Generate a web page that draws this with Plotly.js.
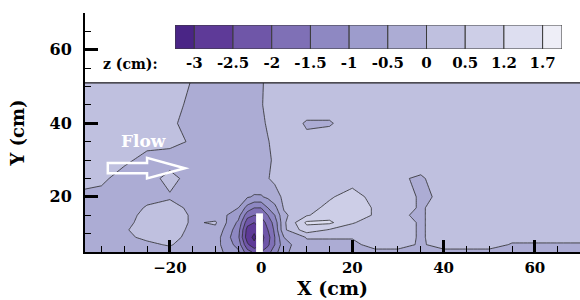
<!DOCTYPE html>
<html><head><meta charset="utf-8">
<script src="https://cdn.plot.ly/plotly-3.0.1.min.js"></script>
<style>html,body{margin:0;padding:0;background:#fff}#chart{width:580px;height:300px}</style>
</head><body><div id="chart"></div>
<script>
// grid of measurement positions (cm)
const xGrid = [-39,-35,-30,-25,-20,-15,-10,-5,-3,-1.5,0,1.5,3,5,10,15,20,25,30,35,40,45,50,55,60,65,70];
const yGrid = [5,7,9,11,13,15,17,20,25,30,35,40,45,51];
// bed level z (cm), one row per y
const zY5  = [-0.25,-0.25,-0.3,-0.3,-0.2,-0.3,-0.3,-0.9,-1.8,-2.1,-2.0,-1.7,-1.2,-0.6,-0.15,-0.15,-0.15,-0.1,-0.1,-0.15,-0.1,-0.1,-0.1,-0.15,-0.15,-0.15,-0.15];
const zY7  = [-0.25,-0.25,-0.25,-0.1,0.05,-0.3,-0.3,-1.2,-2.4,-2.9,-2.6,-2.1,-1.5,-0.7,-0.1,-0.1,-0.1,0.15,0.15,-0.05,0.15,0.15,0.15,-0.03,-0.03,-0.03,-0.03];
const zY9  = [-0.25,-0.25,-0.1,0.1,0.2,-0.2,-0.25,-1.4,-2.8,-3.1,-2.7,-2.2,-1.5,-0.5,0.03,0.03,0.03,0.2,0.2,-0.05,0.2,0.2,0.2,0.1,0.1,0.1,0.1];
const zY11 = [-0.25,-0.25,-0.05,0.2,0.2,-0.1,-0.1,-1.3,-2.7,-2.9,-2.5,-2.0,-1.4,-0.1,0.9,0.45,0.3,0.25,0.2,-0.05,0.2,0.25,0.25,0.25,0.25,0.25,0.25];
const zY13 = [-0.25,-0.25,-0.15,0.2,0.2,-0.05,0.05,-1.1,-2.3,-2.5,-2.3,-1.8,-1.3,-0.1,1.3,1.3,0.55,0.3,0.2,-0.05,0.2,0.25,0.25,0.25,0.25,0.25,0.25];
const zY15 = [-0.25,-0.25,-0.2,0.15,0.2,-0.05,-0.2,-0.8,-1.8,-2.0,-1.9,-1.5,-1.0,-0.1,0.45,0.9,0.85,0.45,0.05,-0.05,0.2,0.25,0.25,0.25,0.25,0.25,0.25];
const zY17 = [-0.25,-0.25,-0.25,0.05,0.15,-0.1,-0.25,-0.5,-1.2,-1.5,-1.5,-1.0,-0.65,0.05,0.35,0.65,0.85,0.45,0.2,-0.05,0.2,0.25,0.25,0.25,0.25,0.25,0.25];
const zY20 = [-0.1,-0.15,-0.25,-0.15,-0.05,-0.2,-0.25,-0.3,-0.45,-0.55,-0.55,-0.4,-0.2,0.1,0.3,0.45,0.75,0.35,0.2,-0.05,0.05,0.25,0.25,0.25,0.25,0.25,0.25];
const zY25 = [0.15,0.1,-0.2,-0.2,0.15,-0.2,-0.2,-0.2,-0.2,-0.15,-0.1,-0.02,0.1,0.2,0.25,0.3,0.3,0.25,0.05,-0.05,0.2,0.25,0.25,0.25,0.25,0.25,0.25];
const zY30 = [0.15,0.15,0.1,-0.15,-0.2,-0.2,-0.2,-0.2,-0.2,-0.15,-0.1,-0.05,0.05,0.2,0.25,0.25,0.25,0.25,0.25,0.2,0.25,0.25,0.25,0.25,0.25,0.25,0.25];
const zY35 = [0.15,0.15,0.15,0.15,0.12,-0.05,-0.2,-0.2,-0.2,-0.15,-0.1,-0.02,0.1,0.2,0.1,0.25,0.25,0.25,0.25,0.25,0.25,0.25,0.25,0.25,0.25,0.25,0.25];
const zY40 = [0.15,0.15,0.15,0.15,0.1,-0.2,-0.2,-0.2,-0.2,-0.15,-0.08,0.05,0.2,0.25,-0.05,-0.05,0.25,0.25,0.25,0.25,0.25,0.25,0.25,0.25,0.25,0.25,0.25];
const zY45 = [0.15,0.15,0.15,0.15,0.15,-0.1,-0.2,-0.2,-0.2,-0.15,-0.03,0.1,0.2,0.25,0.25,0.25,0.25,0.25,0.25,0.25,0.25,0.25,0.25,0.25,0.25,0.25,0.25];
const zY51 = [0.15,0.15,0.15,0.15,0.15,-0.02,-0.2,-0.2,-0.2,-0.15,-0.05,0.1,0.2,0.25,0.25,0.25,0.25,0.25,0.25,0.25,0.25,0.25,0.25,0.25,0.25,0.25,0.25];
const zRows = [zY5,zY7,zY9,zY11,zY13,zY15,zY17,zY20,zY25,zY30,zY35,zY40,zY45,zY51];

// contour levels (cm) and legend labels
const levels = [-3,-2.5,-2,-1.5,-1,-0.5,0,0.5,1.2,1.7];
const levelLabels = ['-3','-2.5','-2','-1.5','-1','-0.5','0','0.5','1.2','1.7'];
const bandColors = ['#4a2586','#5e3a98','#6f56a8','#7f70b6','#8e88c2','#9d9ccc','#acacd4','#bfc0df','#cdcee7','#dddef0','#eeeef7'];

// pier and flow arrow (cm)
const pierX = [-1.1, 0.4];
const pierY = [5, 15.5];
const arrowX = [-33.6, -25, -16.7];
const arrowY = 27.8;

// map z to level index (levels are not evenly spaced)
function toIndex(v){
  const n = levels.length;
  if (v <= levels[0]) return (v - levels[0]) / (levels[1] - levels[0]);
  if (v >= levels[n-1]) return (n-1) + (v - levels[n-1]) / (levels[n-1] - levels[n-2]);
  for (let i = 0; i < n-1; i++) {
    if (v <= levels[i+1]) return i + (v - levels[i]) / (levels[i+1] - levels[i]);
  }
}
const zIdx = zRows.map(r => r.map(toIndex));
const cscale = bandColors.map((c,i) => [i/(bandColors.length-1), c]);

const contour = {
  type:'contour', x:xGrid, y:yGrid, z:zIdx,
  contours:{start:0, end:levels.length-1, size:1, coloring:'fill', showlines:true},
  colorscale:cscale, showscale:false,
  line:{color:'#2a2a2a', width:0.8, smoothing:0},
  hoverinfo:'skip'
};

// legend bar built from the levels
const barX = [], barW = [];
for (let k = 0; k < bandColors.length; k++) {
  const lo = Math.max(k-1, -0.5), hi = Math.min(k, levels.length-0.5);
  barX.push((lo+hi)/2); barW.push(hi-lo);
}
const legendBar = {
  type:'bar', x:barX, y:bandColors.map(()=>1), width:barW, base:0,
  marker:{color:bandColors, line:{color:'#3a3a3a', width:1}},
  xaxis:'x2', yaxis:'y2', hoverinfo:'skip'
};

const tfx = {family:'DejaVu Serif', size:15, color:'#000', weight:'bold'};
const tfy = {family:'DejaVu Serif', size:16, color:'#000', weight:'bold'};
const arrowPath = (() => {
  const [x0,xh,x1] = arrowX, y = arrowY, s = 1.4, h = 2.8;
  return `M${x0},${y+s} L${xh},${y+s} L${xh},${y+h} L${x1},${y} L${xh},${y-h} L${xh},${y-s} L${x0},${y-s} Z`;
})();

const layout = {
  width:580, height:300, margin:{l:85, r:0, t:13, b:48},
  paper_bgcolor:'#fff', plot_bgcolor:'#fff', showlegend:false,
  font:{family:'DejaVu Serif', color:'#000'},
  xaxis:{range:[-38.6,69.9], tick0:0, dtick:20, ticks:'inside', ticklen:12, tickwidth:3, tickcolor:'#000',
    showline:true, linewidth:2, linecolor:'#000', showgrid:false, zeroline:false, tickfont:tfx, ticklabelstandoff:1,
    minor:{ticks:'inside', ticklen:6, tickwidth:1, dtick:5, tick0:0, tickcolor:'#000', showgrid:false},
    title:{text:'X (cm)', font:{family:'DejaVu Serif', size:19, weight:'bold', color:'#000'}, standoff:4}},
  yaxis:{range:[5,70], tick0:0, dtick:20, ticks:'inside', ticklen:13, tickwidth:3, tickcolor:'#000',
    showline:true, linewidth:2, linecolor:'#000', showgrid:false, zeroline:false, tickfont:tfy, ticklabelstandoff:8,
    minor:{ticks:'inside', ticklen:6, tickwidth:1, dtick:5, tick0:0, tickcolor:'#000', showgrid:false},
    title:{text:'Y (cm)', font:{family:'DejaVu Serif', size:18, weight:'bold', color:'#000'}, standoff:20}},
  xaxis2:{domain:[0.1818,0.9636], anchor:'y2', range:[-0.5, levels.length-0.5], tickvals:levels.map((_,i)=>i),
    ticktext:levelLabels, showgrid:false, zeroline:false, showline:false, ticks:'', ticklabelstandoff:3,
    tickfont:{family:'DejaVu Serif', size:15, color:'#000', weight:'bold'}, fixedrange:true},
  yaxis2:{domain:[0.8494,0.9498], anchor:'x2', range:[0,1], visible:false, fixedrange:true},
  annotations:[
    {xref:'paper', yref:'paper', x:0.091, y:0.787, xanchor:'center', yanchor:'middle', text:'z (cm):', showarrow:false,
     font:{family:'DejaVu Serif', size:14, weight:'bold', color:'#000'}},
    {xref:'x', yref:'y', x:-25.7, y:35.2, xanchor:'center', yanchor:'middle', text:'Flow', showarrow:false,
     font:{family:'DejaVu Serif', size:17, weight:'bold', color:'#fff'}}
  ],
  shapes:[
    {type:'line', xref:'paper', yref:'y', x0:0, x1:1, y0:yGrid[yGrid.length-1], y1:yGrid[yGrid.length-1],
     line:{color:'#222', width:1.2}},
    {type:'rect', xref:'x', yref:'y', x0:pierX[0], x1:pierX[1], y0:pierY[0], y1:pierY[1],
     fillcolor:'#fff', line:{width:0}},
    {type:'path', xref:'x', yref:'y', path:arrowPath, line:{color:'#fff', width:2.5}}
  ]
};

Plotly.newPlot('chart', [contour, legendBar], layout, {staticPlot:true, displayModeBar:false});
</script></body></html>
